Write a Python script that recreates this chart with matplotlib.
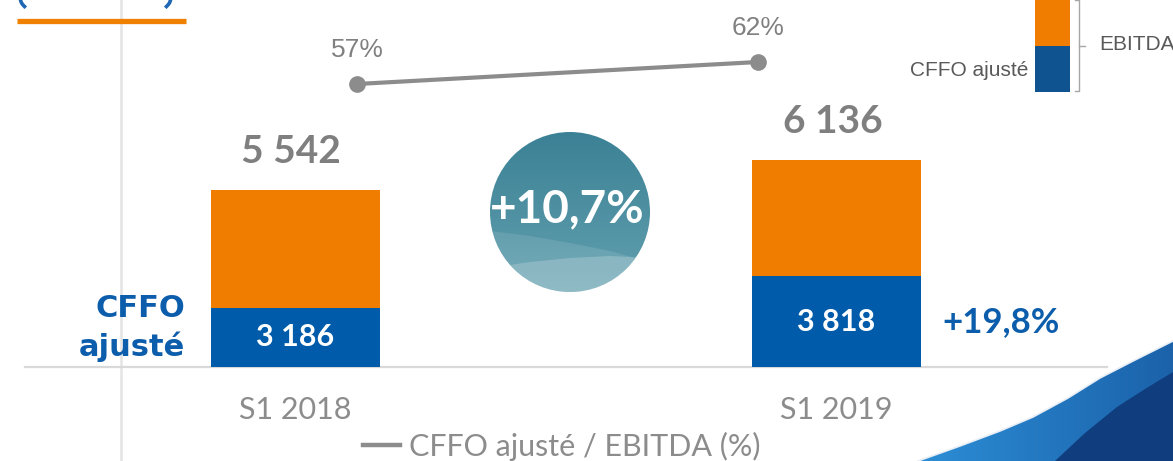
import matplotlib
matplotlib.use("Agg")
import matplotlib.pyplot as plt
import numpy as np
from matplotlib.colors import LinearSegmentedColormap
from matplotlib.lines import Line2D
from matplotlib.patches import Circle, Polygon, Rectangle


# ---------------------------------------------------------------------------
# Data
# ---------------------------------------------------------------------------

periods = ["S1 2018", "S1 2019"]
ebitda = [5542, 6136]          # total bar (EBITDA)
cffo = [3186, 3818]            # lower part (CFFO ajusté)
ratio = [57, 62]               # CFFO ajusté / EBITDA (%)

W, H = 1173, 461               # output size in pixels
Y_FLOOR = 2000                 # value axis does not start at zero
PX_PER_UNIT = 0.05

ORANGE = "#F07D00"
BLUE = "#005BAA"
BLUE_TXT = "#0C5DAB"
GRAY_TXT = "#7F7F7F"
LINE_GRAY = "#8C8C8C"


def fmt_thousands(v):
    return f"{v:,}".replace(",", " ")


def fmt_growth(new, old):
    return f"{(new / old - 1) * 100:+.1f}%".replace(".", ",")


def px_axes(fig, x0, y0, x1, y1):
    """Axes placed by pixel box (top-left origin)."""
    return fig.add_axes([x0 / W, 1 - y1 / H, (x1 - x0) / W, (y1 - y0) / H])


fig = plt.figure(figsize=(W / 100, H / 100), dpi=100, facecolor="white")

# ---------------------------------------------------------------------------
# Slide decorations (pixel coordinates)
# ---------------------------------------------------------------------------

deco = fig.add_axes([0, 0, 1, 1], zorder=0)
deco.set_xlim(0, W)
deco.set_ylim(H, 0)
deco.axis("off")

deco.plot([121, 121], [0, H], color="#E4E4E4", lw=1.8, zorder=0)
deco.plot([17, 186], [21.5, 21.5], color="#F08000", lw=3.8, solid_capstyle="butt")
# bottoms of the title brackets, cut by the slide edge
deco.plot([20.5, 21.3, 22.6, 24.5], [0, 2.5, 4.5, 6.5], color="#1F66B5", lw=2.6)
deco.plot([170.5, 169.7, 168.4, 166.5], [0, 2.5, 4.5, 6.5], color="#1F66B5", lw=2.6)

deco.text(185, 317, "CFFO", color=BLUE_TXT, fontsize=22, fontweight="bold",
          family="DejaVu Sans", ha="right", va="baseline")
deco.text(185, 356, "ajusté", color=BLUE_TXT, fontsize=22, fontweight="bold",
          family="DejaVu Sans", ha="right", va="baseline")

# top-right key
deco.add_patch(Rectangle((1035, 0), 35, 46, color=ORANGE, lw=0))
deco.add_patch(Rectangle((1035, 46), 35, 46, color="#0F5391", lw=0))
deco.plot([1075, 1079, 1079, 1075], [0, 0, 91, 91], color="#A6A6A6", lw=1)
deco.plot([1079, 1085], [46, 46], color="#A6A6A6", lw=1)
deco.text(1028, 70, "CFFO ajusté", color="#595959", fontsize=15,
          family="Liberation Sans", ha="right", va="center")
deco.text(1099, 44, "EBITDA", color="#595959", fontsize=15,
          family="Liberation Sans", ha="left", va="center")

# growth bubble
cx, cy, r = 570, 212, 80
clip = Circle((cx, cy), r, transform=deco.transData)
grad = np.linspace(0, 1, 256)[:, None] * np.ones((1, 2))
cmap = LinearSegmentedColormap.from_list("teal", ["#3B8195", "#62A0AF"])
im = deco.imshow(grad, cmap=cmap, extent=(cx - r, cx + r, cy + r, cy - r),
                 origin="upper", aspect="auto", zorder=2)
im.set_clip_path(clip)
wave1 = Polygon([(cx - r, 231), (530, 236), (570, 243), (610, 251), (cx + r, 262),
                 (cx + r, cy + r), (cx - r, cy + r)], color="white", alpha=0.11,
                lw=0, zorder=3)
wave2 = Polygon([(cx - r, 268), (530, 262), (570, 258), (610, 256), (cx + r, 258),
                 (cx + r, cy + r), (cx - r, cy + r)], color="white", alpha=0.2,
                lw=0, zorder=3)
for w in (wave1, wave2):
    deco.add_patch(w)
    w.set_clip_path(clip)
deco.text(567, 209, fmt_growth(ebitda[1], ebitda[0]), color="white", fontsize=33,
          fontweight="bold", family="Lato", ha="center", va="center", zorder=4)

# blue swoosh bottom-right
outer = [(918, 461), (960, 446), (1000, 431), (1033, 417), (1068, 398),
         (1100, 378), (1135, 360), (1173, 341), (1173, 461)]
inner = [(1055, 461), (1085, 433), (1117, 407), (1145, 389), (1173, 372), (1173, 461)]
hgrad = np.linspace(0, 1, 256)[None, :] * np.ones((2, 1))
sw_cmap = LinearSegmentedColormap.from_list("sw", ["#2C8ED6", "#1B62AA"])
sw_poly = Polygon(outer, transform=deco.transData)
im2 = deco.imshow(hgrad, cmap=sw_cmap, extent=(918, 1173, 461, 341),
                  origin="upper", aspect="auto", zorder=2)
im2.set_clip_path(sw_poly)
deco.plot([p[0] for p in outer[:-1]], [p[1] for p in outer[:-1]],
          color="#E8EEF6", lw=1.2, zorder=3)
deco.add_patch(Polygon(inner, color="#0F3D7E", lw=0, zorder=3))

deco.set_xlim(0, W)
deco.set_ylim(H, 0)

# ---------------------------------------------------------------------------
# Stacked bars
# ---------------------------------------------------------------------------

ax = px_axes(fig, 25, 0, 1107, 367)
ax.set_zorder(1)
ax.set_facecolor("none")
x = np.arange(len(periods))
bw = 0.313
ax.bar(x, ebitda, bw, color=ORANGE, zorder=2)
ax.bar(x, cffo, bw, color=BLUE, zorder=3)
ax.set_xlim(-0.5, 1.5)
ax.set_ylim(Y_FLOOR, Y_FLOOR + 367 / PX_PER_UNIT)

for i in x:
    ax.annotate(fmt_thousands(ebitda[i]), (i, ebitda[i]), xytext=(-3, 28),
                textcoords="offset points", ha="center", va="center",
                fontsize=28, fontweight="bold", family="Lato", color=GRAY_TXT)
    ax.text(i, (Y_FLOOR + cffo[i]) / 2, fmt_thousands(cffo[i]), ha="center",
            va="center", fontsize=22, fontweight="bold", family="Lato",
            color="white", zorder=4)
ax.annotate(fmt_growth(cffo[1], cffo[0]), (1 + bw / 2, (Y_FLOOR + cffo[1]) / 2),
            xytext=(15, 0), textcoords="offset points", ha="left", va="center",
            fontsize=25, fontweight="bold", family="Lato", color=BLUE_TXT)

for s in ("left", "right", "top"):
    ax.spines[s].set_visible(False)
ax.spines["bottom"].set_color("#D9D9D9")
ax.spines["bottom"].set_linewidth(1.6)
ax.set_yticks([])
ax.set_xticks(x, periods)
ax.tick_params(axis="x", length=0, pad=21, labelsize=22, labelcolor="#8C8C8C")
for lab in ax.get_xticklabels():
    lab.set_family("Lato")

# ---------------------------------------------------------------------------
# Ratio line (own axes, offset from bars as in the slide)
# ---------------------------------------------------------------------------

lx = fig.add_axes([0, 0, 1, 1], zorder=2)
lx.set_facecolor("none")
lx.axis("off")
p0, p1 = 357, 758                 # pixel x of the two points
lx.set_xlim(-p0 / (p1 - p0), (W - p0) / (p1 - p0))
py0, py1 = H - 84, H - 62         # pixel y (from bottom) of 57 and 62
k = (py1 - py0) / (ratio[1] - ratio[0])
lx.set_ylim(ratio[0] - py0 / k, ratio[0] + (H - py0) / k)
lx.plot(x, ratio, color=LINE_GRAY, lw=3, marker="o", ms=11)
for i in x:
    lx.annotate(f"{ratio[i]}%", (i, ratio[i]), xytext=(0, 24.5),
                textcoords="offset points", ha="center", va="center",
                fontsize=19, family="Liberation Sans", color="#808080")

handle = Line2D([], [], color=LINE_GRAY, lw=3.2)
leg = lx.legend([handle], ["CFFO ajusté / EBITDA (%)"], loc="center",
                bbox_to_anchor=(562 / W, 1 - 446 / H), bbox_transform=fig.transFigure,
                frameon=False, handlelength=1.2, handletextpad=0.3,
                prop={"family": "Lato", "size": 22})
for t in leg.get_texts():
    t.set_color("#8C8C8C")

fig.savefig("out.png", dpi=100, facecolor="white")
